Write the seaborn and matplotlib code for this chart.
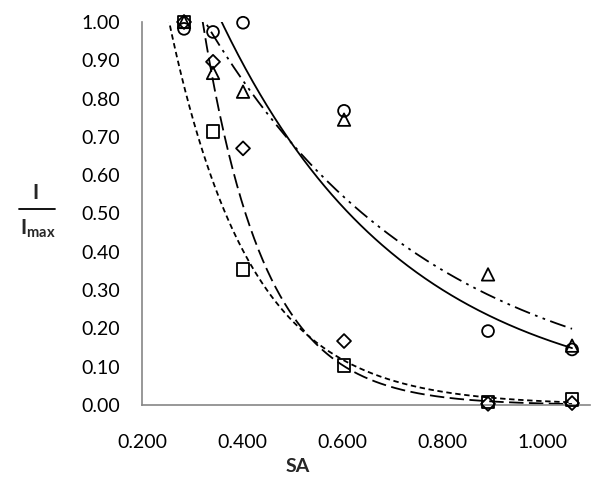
import numpy as np
import matplotlib
matplotlib.use("Agg")
import matplotlib.pyplot as plt
import seaborn as sns
from matplotlib.lines import Line2D

# values
sa = [0.284, 0.342, 0.402, 0.604, 0.892, 1.060]
circle_vals = [0.982, 0.974, 0.998, 0.768, 0.193, 0.145]
triangle_vals = [1.000, 0.867, 0.818, 0.745, 0.341, 0.155]
diamond_vals = [1.000, 0.896, 0.670, 0.167, 0.003, 0.005]
square_vals = [1.000, 0.714, 0.354, 0.104, 0.008, 0.015]

x_ticks = [0.2, 0.4, 0.6, 0.8, 1.0]
y_ticks = [0.0, 0.1, 0.2, 0.3, 0.4, 0.5, 0.6, 0.7, 0.8, 0.9, 1.0]

sns.set_theme(style="white")
plt.rcParams["font.family"] = ["Lato", "DejaVu Sans"]
plt.rcParams["mathtext.fontset"] = "custom"
plt.rcParams["mathtext.bf"] = "Lato:bold"
plt.rcParams["mathtext.rm"] = "Lato"

fig = plt.figure(figsize=(6, 4.83), dpi=100)
ax = fig.add_axes([0.2367, 0.1615, 0.7467, 0.793])

series = [
    (circle_vals, "o", "-", 72),
    (triangle_vals, "^", (0, (9, 3, 1.5, 3, 1.5, 3)), 80),
    (diamond_vals, "D", (0, (8, 3)), 50),
    (square_vals, "s", (0, (3, 2)), 85),
]

xs = np.linspace(0.2, 1.06, 300)
for vals, mk, ls, size in series:
    # exponential trendline, fitted like a spreadsheet would
    b, a = np.polyfit(sa, np.log(vals), 1)
    sns.lineplot(x=xs, y=np.exp(a + b * xs), color="black", lw=1.3,
                 linestyle=ls, ax=ax)

for vals, mk, ls, size in series:
    sns.scatterplot(x=sa, y=vals, marker=mk, s=size, fc="none", ec="black",
                    linewidth=1.3, ax=ax, clip_on=False, zorder=3)

ax.set_xlim(0.2, 1.096)
ax.set_ylim(0, 1.0)
ax.set_xticks(x_ticks)
ax.set_yticks(y_ticks)
ax.set_xticklabels([f"{v:.3f}" for v in x_ticks])
ax.set_yticklabels([f"{v:.2f}" for v in y_ticks])

for side in ["top", "right"]:
    ax.spines[side].set_visible(False)
for side in ["left", "bottom"]:
    ax.spines[side].set_color("#868686")
    ax.spines[side].set_linewidth(1.2)
ax.tick_params(axis="both", direction="out", length=4, width=1.2,
               color="#868686", labelsize=14, labelcolor="black")
ax.tick_params(axis="y", pad=12)
ax.tick_params(axis="x", pad=17)
ax.grid(False)
ax.set_xlabel("")
ax.set_ylabel("")

# y label drawn as a fraction I / I_max
fig.text(298 / 600, 1 - 467 / 483, "SA", ha="center", va="center",
         fontsize=14, fontweight="bold")
fig.text(36 / 600, 1 - 193 / 483, "I", ha="center", va="center",
         fontsize=15, fontweight="bold")
fig.add_artist(Line2D([19 / 600, 55 / 600], [1 - 209 / 483, 1 - 209 / 483],
                      color="black", lw=1.3))
fig.text(20 / 600, 1 - 229 / 483, r"$\mathbf{I_{max}}$", ha="left",
         va="center", fontsize=15)

fig.savefig("out.png", dpi=100)
